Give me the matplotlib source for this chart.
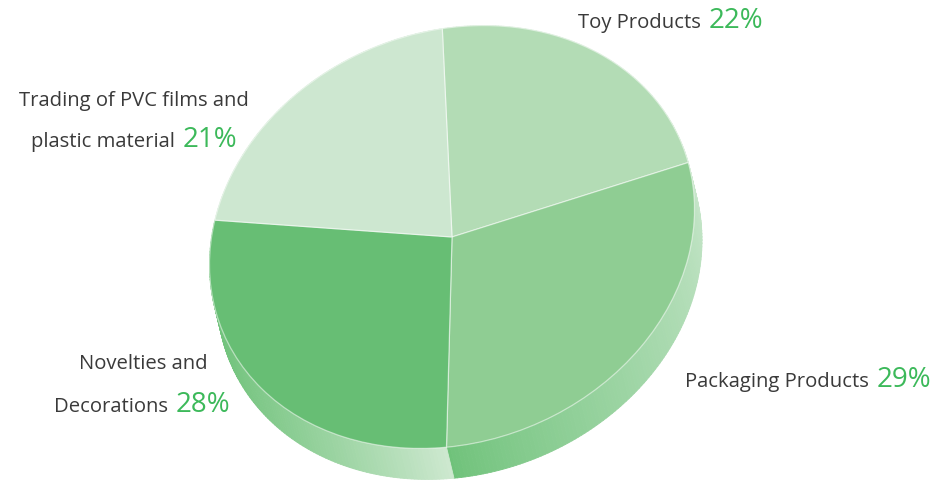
import numpy as np
import matplotlib.pyplot as plt
from matplotlib.collections import PolyCollection
from matplotlib.colors import to_rgb
from matplotlib.transforms import Affine2D

plt.rcParams['font.family'] = ['Open Sans', 'DejaVu Sans']

# segment data (clockwise from the top)
names = ["Toy Products", "Packaging Products", "Decorations", "plastic material"]
first_lines = ["", "", "Novelties and", "Trading of PVC films and"]
shares = [22, 29, 28, 21]
pct_labels = ["22%", "29%", "28%", "21%"]

top_colors = ["#b3dcb5", "#8fcd93", "#67be74", "#cde7d0"]
side_lo = ["#c8e6cb", "#6fc27a", "#6dc178", "#c8e6cb"]   # side colour at wedge.theta1
side_hi = ["#c8e6cb", "#c8e6cb", "#cde8cf", "#c8e6cb"]   # side colour at wedge.theta2
side_gamma = [1.0, 0.8, 2.2, 1.0]

W, H = 937, 483
fig = plt.figure(figsize=(W / 100, H / 100), dpi=100)
ax = fig.add_axes([0, 0, 1, 1])

# tilted disc: unit pie mapped onto a rotated ellipse (pixel units)
cx, cy = 452, H - 237
disc = Affine2D().scale(248, 205).rotate_deg(21.8).translate(cx, cy) + ax.transData
depth = (7.5, -31)

wedges, _ = ax.pie(shares, colors=top_colors, startangle=74, counterclock=False,
                   radius=1, wedgeprops=dict(edgecolor=(1, 1, 1, 0.5), linewidth=0.9))
for w in wedges:
    w.set_transform(disc)
    w.set_zorder(3)

# extruded side of the disc
unit_to_px = Affine2D().scale(248, 205).rotate_deg(21.8).translate(cx, cy)
polys, cols = [], []
for i, w in enumerate(wedges):
    t = np.radians(np.linspace(w.theta1, w.theta2, 120))
    pts = unit_to_px.transform(np.column_stack([np.cos(t), np.sin(t)]))
    c0, c1 = np.array(to_rgb(side_lo[i])), np.array(to_rgb(side_hi[i]))
    for k in range(len(t) - 1):
        p0, p1 = pts[k], pts[k + 1]
        polys.append([p0, p1, p1 + depth, p0 + depth])
        f = (k / (len(t) - 2)) ** side_gamma[i]
        cols.append(c0 + (c1 - c0) * f)
side = PolyCollection(polys, facecolors=cols, edgecolors=cols, linewidths=0.6, zorder=1)
ax.add_collection(side)

ax.set_aspect('auto')
ax.set_xlim(0, W)
ax.set_ylim(0, H)
ax.axis('off')


def px(x, y):
    return x / W, 1 - y / H


name_kw = dict(fontsize=14.6, color="#3a3a3a", va="baseline")
pct_kw = dict(fontsize=20, color="#3cb95a", va="baseline")

# Toy Products
fig.text(*px(701, 28), names[0], ha="right", **name_kw)
fig.text(*px(709, 28), pct_labels[0], ha="left", **pct_kw)
# Packaging Products
fig.text(*px(869, 387), names[1], ha="right", **name_kw)
fig.text(*px(877, 387), pct_labels[1], ha="left", **pct_kw)
# Novelties and Decorations
fig.text(*px(143, 369), first_lines[2], ha="center", **name_kw)
fig.text(*px(168, 412), names[2], ha="right", **name_kw)
fig.text(*px(176, 412), pct_labels[2], ha="left", **pct_kw)
# Trading of PVC films and plastic material
fig.text(*px(134, 106), first_lines[3], ha="center", **name_kw)
fig.text(*px(175, 147), names[3], ha="right", **name_kw)
fig.text(*px(183, 147), pct_labels[3], ha="left", **pct_kw)

fig.savefig("out.png", dpi=100)
